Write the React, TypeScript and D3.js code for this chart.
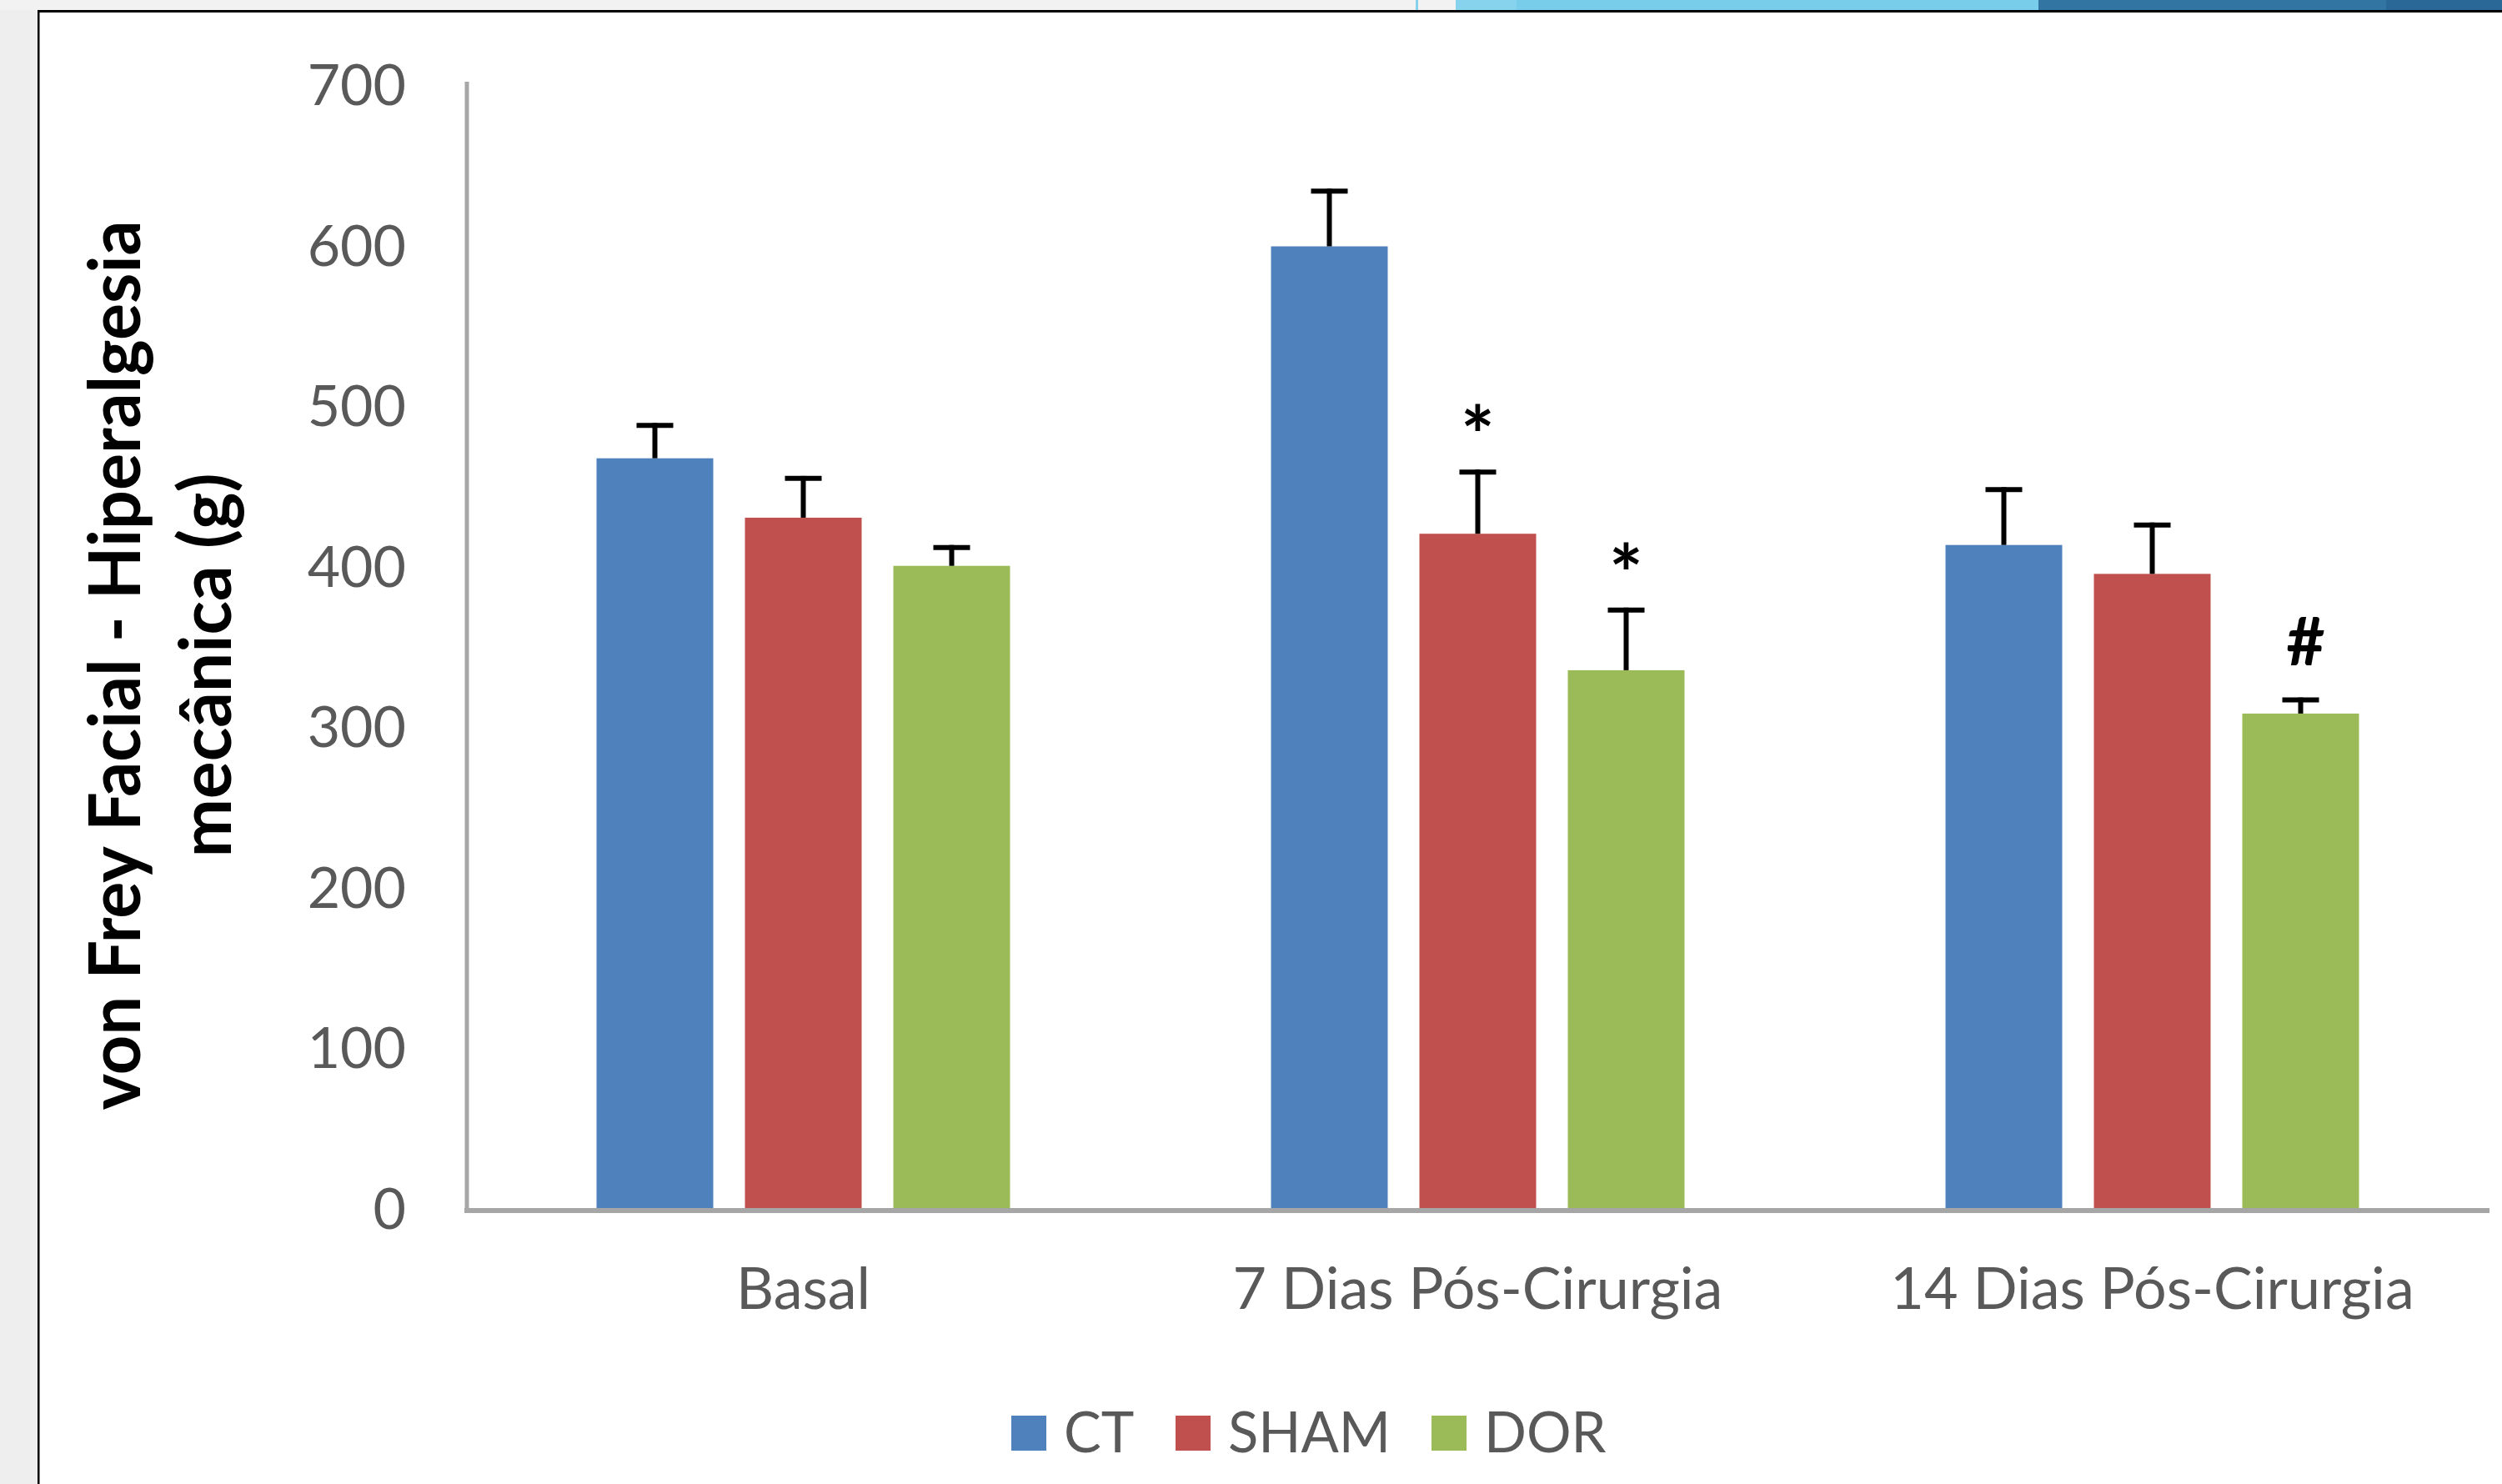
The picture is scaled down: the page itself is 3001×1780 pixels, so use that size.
import React, { useEffect } from "react";
import * as d3 from "d3";

// ---- data ----
const categories = ["Basal", "7 Dias Pós-Cirurgia", "14 Dias Pós-Cirurgia"];
const seriesNames = ["CT", "SHAM", "DOR"];
const ctValues = [467, 599, 413];
const shamValues = [430, 420, 395];
const dorValues = [400, 335, 308];
const ctErrors = [22, 36, 36];
const shamErrors = [26, 40, 32];
const dorErrors = [13, 39, 10];
const ctMarks = ["", "", ""];
const shamMarks = ["", "*", ""];
const dorMarks = ["", "*", "#"];
const yTicks = [0, 100, 200, 300, 400, 500, 600, 700];
const yTitleLines = ["von Frey Facial - Hiperalgesia", "mecânica (g)"];

const seriesColors = ["#4f81bd", "#c0504d", "#9bbb59"];

const W = 3001;
const H = 1780;
const FONT = "Lato, 'Open Sans', sans-serif";

export default function App() {
  useEffect(() => {
    document.body.style.margin = "0";
  }, []);

  const values = [ctValues, shamValues, dorValues];
  const errors = [ctErrors, shamErrors, dorErrors];
  const marks = [ctMarks, shamMarks, dorMarks];

  const plotLeft = 559;
  const plotRight = 2986;
  const y = d3.scaleLinear().domain([0, 700]).range([1449, 101]);
  const x0 = d3.scaleBand<string>().domain(categories).range([plotLeft, plotRight]).paddingInner(0).paddingOuter(0);
  const step = 178;
  const barW = 140;
  const innerPadInner = (step - barW) / step;
  const innerN = x0.bandwidth() / step; // n - p + 2o
  const innerPadOuter = (innerN - 3 + innerPadInner) / 2;
  const x1 = d3
    .scaleBand<string>()
    .domain(seriesNames)
    .range([0, x0.bandwidth()])
    .paddingInner(innerPadInner)
    .paddingOuter(innerPadOuter);

  const capW = 44;
  const legendX = [1213, 1410, 1717];
  const sw = 42;

  return (
    <svg
      width={W}
      height={H}
      style={{ position: "absolute", left: 0, top: 0, display: "block" }}
    >
      <rect x={0} y={0} width={W} height={H} fill="#ffffff" />
      {/* frame decoration */}
      <rect x={0} y={0} width={46} height={H} fill="#eeeeee" />
      <rect x={0} y={0} width={1698} height={12} fill="#f2f2f2" />
      <rect x={1698} y={0} width={3} height={12} fill="#86d0ec" />
      <rect x={1701} y={0} width={45} height={12} fill="#f2f2f2" />
      <rect x={1746} y={0} width={73} height={12} fill="#87d3ee" />
      <rect x={1819} y={0} width={626} height={12} fill="#78cdea" />
      <rect x={2445} y={0} width={417} height={12} fill="#3275a3" />
      <rect x={2862} y={0} width={139} height={12} fill="#2a6898" />
      <rect x={45} y={12} width={W - 45} height={3} fill="#000000" />
      <rect x={45} y={12} width={2.5} height={H - 12} fill="#000000" />

      {/* y axis title */}
      {yTitleLines.map((t, i) => (
        <text
          key={t}
          transform={`translate(${168 + i * 109},798) rotate(-90)`}
          textAnchor="middle"
          fontFamily={FONT}
          fontWeight={700}
          fontSize={86}
          fill="#000000"
          textLength={i === 0 ? 1067 : 461}
          lengthAdjust="spacingAndGlyphs"
        >
          {t}
        </text>
      ))}

      {/* y tick labels */}
      {yTicks.map((t) => (
        <text
          key={t}
          x={487}
          y={y(t) + 25}
          textAnchor="end"
          fontFamily={FONT}
          fontSize={68}
          fill="#595959"
        >
          {t}
        </text>
      ))}

      {/* bars */}
      {categories.map((c, ci) => (
        <g key={c} transform={`translate(${x0(c)},0)`}>
          {seriesNames.map((s, si) => {
            const v = values[si][ci];
            const e = errors[si][ci];
            const bx = x1(s) as number;
            const cx = bx + x1.bandwidth() / 2;
            const top = y(v);
            const etop = y(v + e);
            const m = marks[si][ci];
            return (
              <g key={s}>
                <rect x={bx} y={top} width={x1.bandwidth()} height={y(0) - top} fill={seriesColors[si]} />
                <line x1={cx} x2={cx} y1={top} y2={etop} stroke="#000" strokeWidth={6} />
                <line x1={cx - capW / 2} x2={cx + capW / 2} y1={etop + 3} y2={etop + 3} stroke="#000" strokeWidth={6} />
                {m === "*" && (
                  <text x={cx} y={etop - 6} textAnchor="middle" fontFamily={FONT} fontWeight={700} fontSize={96} fill="#000">
                    *
                  </text>
                )}
                {m === "#" && (
                  <text x={cx + 6} y={etop - 39} textAnchor="middle" fontFamily={FONT} fontWeight={700} fontSize={80} fill="#000">
                    #
                  </text>
                )}
              </g>
            );
          })}
        </g>
      ))}

      {/* axes */}
      <line x1={560} x2={560} y1={y(700) - 3} y2={1455} stroke="#a6a6a6" strokeWidth={5} />
      <line x1={557} x2={plotRight} y1={1452} y2={1452} stroke="#a6a6a6" strokeWidth={6} />

      {/* x labels */}
      {categories.map((c) => (
        <text
          key={c}
          x={(x0(c) as number) + x0.bandwidth() / 2}
          y={1570}
          textAnchor="middle"
          fontFamily={FONT}
          fontSize={70}
          fill="#595959"
        >
          {c}
        </text>
      ))}

      {/* legend */}
      {seriesNames.map((s, i) => (
        <g key={s}>
          <rect x={legendX[i]} y={1698} width={sw} height={sw} fill={seriesColors[i]} />
          <text x={legendX[i] + 63} y={1742} fontFamily={FONT} fontSize={67} fill="#595959">
            {s}
          </text>
        </g>
      ))}
    </svg>
  );
}
